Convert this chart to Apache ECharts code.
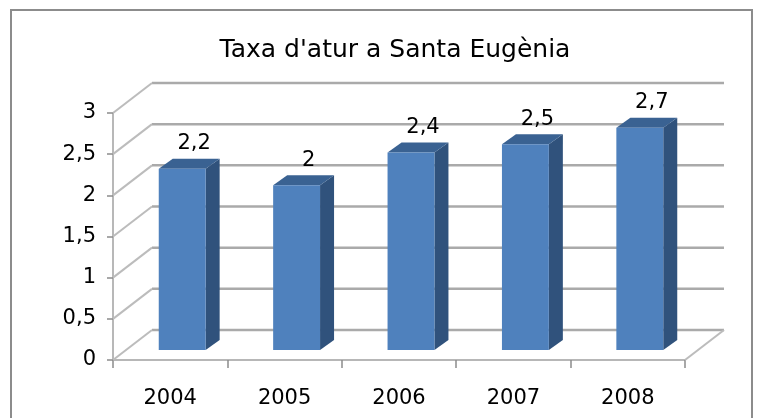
<!DOCTYPE html>
<html>
<head>
<meta charset="utf-8">
<script src="https://cdn.jsdelivr.net/npm/echarts@6/dist/echarts.min.js"></script>
<style>
  html, body { margin: 0; padding: 0; background: #fff; }
  #chart { width: 760px; height: 418px; }
</style>
</head>
<body>
<div id="chart"></div>
<script>
// dades
var years = ['2004', '2005', '2006', '2007', '2008'];
var rates = [2.2, 2.0, 2.4, 2.5, 2.7];
var yTicks = [0, 0.5, 1, 1.5, 2, 2.5, 3];

// profunditat de la paret del fons i de les barres
var WALL_DX = 39, WALL_DY = -30;
var BAR_DX = 14, BAR_DY = -10;
var FONT = '"DejaVu Sans", sans-serif';

function comma(v) {
	return String(v).replace('.', ',');
}

/**
 * paret del fons: linies de la graella + diagonals
 */
function renderWall(params, api) {
	var cs = params.coordSys;
	var v = api.value(1);
	var y = api.coord([0, v])[1];
	var left = cs.x, right = cs.x + cs.width;
	var children = [
		{ type: 'line', shape: { x1: left + WALL_DX, y1: y + WALL_DY, x2: right + WALL_DX, y2: y + WALL_DY },
		  style: { stroke: '#aaaaaa', lineWidth: 2.5 } },
		{ type: 'line', shape: { x1: left, y1: y, x2: left + WALL_DX, y2: y + WALL_DY },
		  style: { stroke: '#bcbcbc', lineWidth: 2 } }
	];
	if (v === 0) {
		children.push({ type: 'line', shape: { x1: right, y1: y, x2: right + WALL_DX, y2: y + WALL_DY },
			style: { stroke: '#bcbcbc', lineWidth: 2 } });
	}
	return { type: 'group', children: children };
}

/**
 * barra 3D: cara, costat, tapa i etiqueta
 */
function renderBar(params, api) {
	var idx = api.value(0);
	var v = api.value(1);
	var top = api.coord([idx, v]);
	var base = api.coord([idx, 0]);
	var band = api.size([1, 0])[0];
	var w = band * 0.41;
	var cx = top[0] + 12;
	var x1 = cx - w / 2, x2 = cx + w / 2;
	var yt = top[1] - 10, yb = base[1] - 10;
	return {
		type: 'group',
		children: [
			{ type: 'polygon', shape: { points: [[x2, yt], [x2 + BAR_DX, yt + BAR_DY], [x2 + BAR_DX, yb + BAR_DY], [x2, yb]] },
			  style: { fill: '#30527c' } },
			{ type: 'polygon', shape: { points: [[x1, yt], [x2, yt], [x2 + BAR_DX, yt + BAR_DY], [x1 + BAR_DX, yt + BAR_DY]] },
			  style: { fill: '#3a6292' } },
			{ type: 'rect', shape: { x: x1, y: yt, width: w, height: yb - yt },
			  style: { fill: '#4f81bd' } },
			{ type: 'text', x: cx + 12, y: yt - 25,
			  style: { text: comma(v), fill: '#000', font: '21px ' + FONT, textAlign: 'center', textVerticalAlign: 'middle' } }
		]
	};
}

var wallData = yTicks.map(function (t) { return [0, t]; });
var barData = rates.map(function (r, i) { return [i, r]; });

var myChart = echarts.init(document.getElementById('chart'));
var option = {
	animation: false,
	backgroundColor: '#fff',
	title: {
		text: "Taxa d'atur a Santa Eugènia",
		left: 390,
		top: 33,
		textAlign: 'center',
		textStyle: { fontFamily: FONT, fontSize: 25, fontWeight: 'normal', color: '#000' }
	},
	graphic: [
		{ type: 'rect', shape: { x: 11, y: 10, width: 741, height: 430 },
		  style: { fill: null, stroke: '#8c8c8c', lineWidth: 2 }, silent: true }
	],
	grid: { left: 113, right: 75, top: 113, bottom: 58 },
	xAxis: {
		type: 'category',
		data: years,
		boundaryGap: true,
		axisLine: { lineStyle: { color: '#a0a0a0', width: 1.5 } },
		axisTick: { show: true, length: 8, lineStyle: { color: '#8c8c8c', width: 1.5 } },
		axisLabel: { margin: 28, color: '#000', fontSize: 21, fontFamily: FONT },
		splitLine: { show: false }
	},
	yAxis: {
		type: 'value',
		min: 0,
		max: 3,
		interval: 0.5,
		axisLine: { show: true, lineStyle: { color: '#a0a0a0', width: 1.5 } },
		axisTick: { show: true, length: 6, lineStyle: { color: '#8c8c8c', width: 1.5 } },
		axisLabel: { margin: 17, color: '#000', fontSize: 21, fontFamily: FONT, formatter: comma },
		splitLine: { show: false }
	},
	series: [
		{ type: 'custom', name: 'paret', renderItem: renderWall, data: wallData, z: 1, silent: true },
		{ type: 'custom', name: 'taxa', renderItem: renderBar, data: barData, z: 3 }
	]
};
myChart.setOption(option);
</script>
</body>
</html>
